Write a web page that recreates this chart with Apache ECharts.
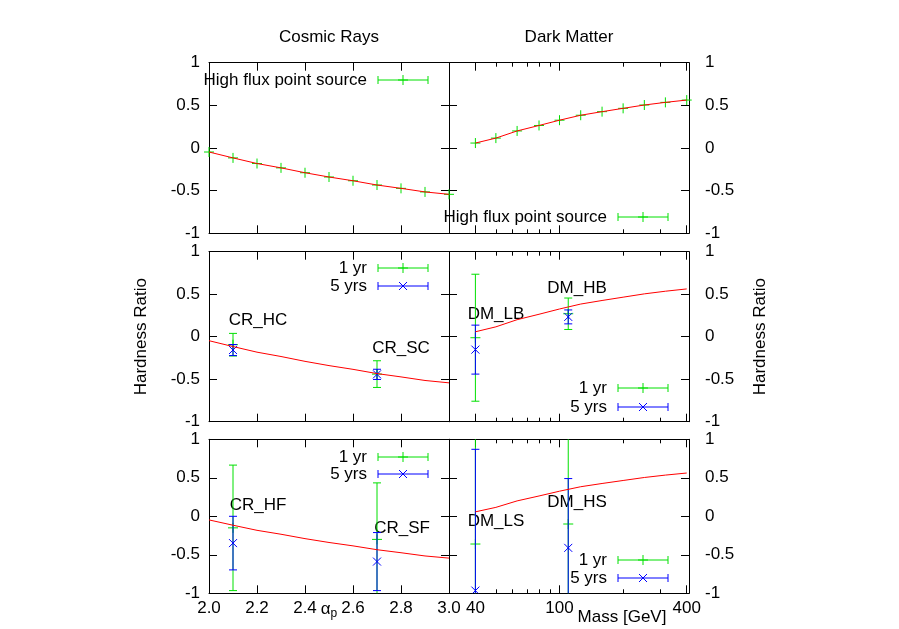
<!DOCTYPE html>
<html>
<head>
<meta charset="utf-8">
<script src="https://cdn.jsdelivr.net/npm/echarts@6/dist/echarts.min.js"></script>
<style>
  body { margin: 0; background: #fff; }
  #chart { width: 899px; height: 629px; }
</style>
</head>
<body>
<div id="chart"></div>
<script>
// ---- data ----
// cosmic rays: hardness ratio vs spectral index (high flux point source)
const crAlpha = [2.0, 2.1, 2.2, 2.3, 2.4, 2.5, 2.6, 2.7, 2.8, 2.9, 3.0];
const crRatio = [-0.047, -0.116, -0.182, -0.233, -0.29, -0.34, -0.384, -0.434, -0.473, -0.515, -0.543];
// dark matter: hardness ratio vs mass [GeV]
const dmMass = [40, 50, 63, 80, 100, 126, 159, 200, 252, 317, 400];
const dmRatio = [0.058, 0.116, 0.2, 0.264, 0.326, 0.384, 0.426, 0.465, 0.504, 0.535, 0.562];

// bright sources (middle row)
const crBrightNames = ['CR_HC', 'CR_SC'];
const crBrightAlpha = [2.1, 2.7];
const crBright1yr = [-0.094, -0.44];
const crBright1yrErr = [0.133, 0.157];
const crBright5yr = [-0.157, -0.443];
const crBright5yrErr = [0.065, 0.06];

const dmBrightNames = ['DM_LB', 'DM_HB'];
const dmBrightMass = [40, 110];
const dmBright1yr = [-0.012, 0.27];
const dmBright1yrErr = [0.747, 0.185];
const dmBright5yr = [-0.152, 0.233];
const dmBright5yrErr = [0.288, 0.082];

// faint sources (bottom row)
const crFaintNames = ['CR_HF', 'CR_SF'];
const crFaintAlpha = [2.1, 2.7];
const crFaint1yr = [-0.15, -0.3];
const crFaint1yrErr = [0.815, 0.734];
const crFaint5yr = [-0.348, -0.588];
const crFaint5yrErr = [0.348, 0.377];

const dmFaintNames = ['DM_LS', 'DM_HS'];
const dmFaintMass = [40, 110];
const dmFaint1yr = [-0.36, -0.1];
const dmFaint1yrErr = [1.5, 1.3];
const dmFaint5yr = [-0.965, -0.41];
const dmFaint5yrErr = [1.835, 0.9];

// tick labels
const massMajor = [40, 100, 400];
const massMinor = [50, 60, 70, 80, 90, 200, 300];

// ---- layout ----
const FONT = '"Liberation Sans", Arial, sans-serif';
const GREEN = '#00e000', BLUE = '#0000ff', RED = '#ff0000';
const colLeft = [209, 449];
const colW = 240;
const rowTop = [62.7, 251.7, 439.3];
const rowH = [170.6, 170, 154];

const chart = echarts.init(document.getElementById('chart'));

const grid = [], xAxis = [], yAxis = [], series = [], graphic = [];
const mainX = [];   // bottom x axis index per panel

function tickAxis(base, extra) {
  return Object.assign({
    axisLine: { show: true, onZero: false, lineStyle: { color: '#000', width: 1 } },
    axisTick: { show: true, inside: true, length: 8, lineStyle: { color: '#000' } },
    splitLine: { show: false },
    axisLabel: { show: false },
    silent: true
  }, base, extra);
}

for (let r = 0; r < 3; r++) {
  for (let c = 0; c < 2; c++) {
    const gi = grid.length;
    grid.push({ left: colLeft[c], top: rowTop[r], width: colW, height: rowH[r] });
    const showX = r === 2;
    let xBase;
    if (c === 0) {
      xBase = { type: 'value', gridIndex: gi, min: 2, max: 3, interval: 0.2 };
    } else {
      xBase = { type: 'value', gridIndex: gi, min: Math.log10(30), max: Math.log10(410) };
    }
    for (const pos of ['bottom', 'top']) {
      const lbl = {
        show: showX && pos === 'bottom',
        color: '#000', fontSize: 17, fontFamily: FONT, margin: 7
      };
      const ax = tickAxis(xBase, { position: pos, axisLabel: lbl });
      if (c === 0) {
        lbl.formatter = v => v.toFixed(1);
      } else {
        lbl.customValues = massMajor.map(Math.log10);
        lbl.formatter = v => String(Math.round(Math.pow(10, v)));
        ax.axisTick = Object.assign({}, ax.axisTick, { customValues: massMajor.map(Math.log10) });
      }
      if (pos === 'bottom') mainX.push(xAxis.length);
      xAxis.push(ax);
      if (c === 1) {
        xAxis.push(tickAxis(xBase, {
          position: pos,
          axisLine: { show: false, onZero: false },
          axisTick: { show: true, inside: true, length: 4, lineStyle: { color: '#000' },
                      customValues: massMinor.map(Math.log10) }
        }));
      }
    }
    for (const pos of ['left', 'right']) {
      const showY = (c === 0 && pos === 'left') || (c === 1 && pos === 'right');
      const ax = tickAxis({ type: 'value', gridIndex: gi, min: -1, max: 1, interval: 0.5 }, {
        position: pos,
        axisLabel: { show: showY, color: '#000', fontSize: 17, fontFamily: FONT,
                     margin: pos === 'left' ? 9 : 16 }
      });
      if (r === 1 && showY) {
        Object.assign(ax, {
          name: 'Hardness Ratio', nameLocation: 'middle', nameRotate: 90,
          nameGap: pos === 'left' ? 59 : 63,
          nameMoveOverlap: false,
          nameTextStyle: { color: '#000', fontSize: 17, fontFamily: FONT }
        });
      }
      yAxis.push(ax);
    }
  }
}

// x-axis title of the cosmic ray column sits on the tick label row
Object.assign(xAxis[mainX[4]], {
  name: '{a|α}{p|p}',
  nameLocation: 'middle',
  nameGap: 6,
  nameMoveOverlap: false,
  nameTextStyle: {
    rich: {
      a: { fontSize: 17, fontFamily: FONT, color: '#000' },
      p: { fontSize: 12, fontFamily: FONT, color: '#000', padding: [8, 0, 0, 0] }
    }
  }
});

// ---- series helpers ----
function markerShapes(x, y, marker, style) {
  if (marker === '+') {
    return [
      { type: 'line', shape: { x1: x - 5, y1: y, x2: x + 5, y2: y }, style },
      { type: 'line', shape: { x1: x, y1: y - 5, x2: x, y2: y + 5 }, style }
    ];
  }
  return [
    { type: 'line', shape: { x1: x - 4, y1: y - 4, x2: x + 4, y2: y + 4 }, style },
    { type: 'line', shape: { x1: x - 4, y1: y + 4, x2: x + 4, y2: y - 4 }, style }
  ];
}

function errorBars(panel, xs, ys, errs, color, marker, clip) {
  const data = xs.map((x, i) => [x, ys[i], errs[i]]);
  series.push({
    type: 'custom',
    xAxisIndex: mainX[panel],
    yAxisIndex: panel * 2,
    clip: clip,
    silent: true,
    data: data,
    encode: { x: 0, y: 1 },
    renderItem: function (params, api) {
      const x = api.value(0), y = api.value(1), e = api.value(2);
      const p = api.coord([x, y]);
      const style = { stroke: color, lineWidth: 1, fill: 'none' };
      const children = [];
      if (e > 0) {
        const hi = api.coord([x, y + e])[1];
        const lo = api.coord([x, y - e])[1];
        children.push({ type: 'line', shape: { x1: p[0], y1: hi, x2: p[0], y2: lo }, style });
        children.push({ type: 'line', shape: { x1: p[0] - 4, y1: hi, x2: p[0] + 4, y2: hi }, style });
        children.push({ type: 'line', shape: { x1: p[0] - 4, y1: lo, x2: p[0] + 4, y2: lo }, style });
      }
      return { type: 'group', children: children.concat(markerShapes(p[0], p[1], marker, style)) };
    }
  });
}

function curve(panel, xs, ys) {
  series.push({
    type: 'line',
    xAxisIndex: mainX[panel],
    yAxisIndex: panel * 2,
    data: xs.map((x, i) => [x, ys[i]]),
    showSymbol: false,
    clip: true,
    silent: true,
    lineStyle: { color: RED, width: 1 }
  });
}

const logMass = arr => arr.map(Math.log10);
const zeros = arr => arr.map(() => 0);

// top row
curve(0, crAlpha, crRatio);
errorBars(0, crAlpha, crRatio, zeros(crAlpha), GREEN, '+', false);
curve(1, logMass(dmMass), dmRatio);
errorBars(1, logMass(dmMass), dmRatio, zeros(dmMass), GREEN, '+', false);
// middle row
curve(2, crAlpha, crRatio);
errorBars(2, crBrightAlpha, crBright1yr, crBright1yrErr, GREEN, '+', true);
errorBars(2, crBrightAlpha, crBright5yr, crBright5yrErr, BLUE, 'x', true);
curve(3, logMass(dmMass), dmRatio);
errorBars(3, logMass(dmBrightMass), dmBright1yr, dmBright1yrErr, GREEN, '+', true);
errorBars(3, logMass(dmBrightMass), dmBright5yr, dmBright5yrErr, BLUE, 'x', true);
// bottom row
curve(4, crAlpha, crRatio);
errorBars(4, crFaintAlpha, crFaint1yr, crFaint1yrErr, GREEN, '+', true);
errorBars(4, crFaintAlpha, crFaint5yr, crFaint5yrErr, BLUE, 'x', true);
curve(5, logMass(dmMass), dmRatio);
errorBars(5, logMass(dmFaintMass), dmFaint1yr, dmFaint1yrErr, GREEN, '+', true);
errorBars(5, logMass(dmFaintMass), dmFaint5yr, dmFaint5yrErr, BLUE, 'x', true);

// ---- text and legends ----
function text(x, y, str, align) {
  return {
    type: 'text', x: x, y: y, silent: true,
    style: { text: str, fill: '#000', font: '17px ' + FONT,
             textAlign: align || 'center', textVerticalAlign: 'middle' }
  };
}

function legendRow(xr, y, label, color, marker) {
  const st = { stroke: color, lineWidth: 1 };
  const x1 = xr + 11, x2 = xr + 61;
  return [
    text(xr, y, label, 'right'),
    { type: 'line', silent: true, shape: { x1: x1, y1: y, x2: x2, y2: y }, style: st },
    { type: 'line', silent: true, shape: { x1: x1, y1: y - 4, x2: x1, y2: y + 4 }, style: st },
    { type: 'line', silent: true, shape: { x1: x2, y1: y - 4, x2: x2, y2: y + 4 }, style: st }
  ].concat(markerShapes(xr + 36, y, marker, st).map(s => Object.assign(s, { silent: true })));
}

graphic.push(text(329, 37, 'Cosmic Rays'));
graphic.push(text(569, 37, 'Dark Matter'));
graphic.push(text(622, 617, 'Mass [GeV]'));

graphic.push(...legendRow(367, 80, 'High flux point source', GREEN, '+'));
graphic.push(...legendRow(607, 217, 'High flux point source', GREEN, '+'));
graphic.push(...legendRow(367, 268, '1 yr', GREEN, '+'));
graphic.push(...legendRow(367, 286, '5 yrs', BLUE, 'x'));
graphic.push(...legendRow(607, 388, '1 yr', GREEN, '+'));
graphic.push(...legendRow(607, 407, '5 yrs', BLUE, 'x'));
graphic.push(...legendRow(367, 457, '1 yr', GREEN, '+'));
graphic.push(...legendRow(367, 474, '5 yrs', BLUE, 'x'));
graphic.push(...legendRow(607, 560, '1 yr', GREEN, '+'));
graphic.push(...legendRow(607, 578, '5 yrs', BLUE, 'x'));

// source labels
graphic.push(text(258, 320, crBrightNames[0]));
graphic.push(text(401, 348, crBrightNames[1]));
graphic.push(text(496, 314, dmBrightNames[0]));
graphic.push(text(577, 288, dmBrightNames[1]));
graphic.push(text(258, 505, crFaintNames[0]));
graphic.push(text(402, 528, crFaintNames[1]));
graphic.push(text(496, 521, dmFaintNames[0]));
graphic.push(text(577, 502, dmFaintNames[1]));

chart.setOption({
  animation: false,
  backgroundColor: '#fff',
  textStyle: { fontFamily: FONT },
  grid: grid,
  xAxis: xAxis,
  yAxis: yAxis,
  series: series,
  graphic: graphic
});
</script>
</body>
</html>
